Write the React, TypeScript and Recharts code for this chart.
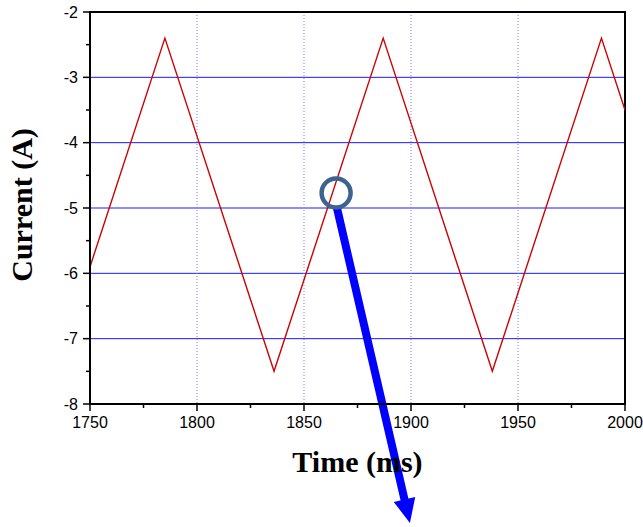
import React from 'react';
import { LineChart, Line, XAxis, YAxis, CartesianGrid, ReferenceArea, ReferenceDot, ReferenceLine } from 'recharts';

// triangle wave (turning points only)
const timeMs = [1750, 1785, 1836, 1887, 1938, 1989, 2000];
const currentA = [-5.9, -2.4, -7.5, -2.4, -7.5, -2.4, -3.5];

const xTicks = [1750, 1775, 1800, 1825, 1850, 1875, 1900, 1925, 1950, 1975, 2000];
const yTicks = [-8, -7.5, -7, -6.5, -6, -5.5, -5, -4.5, -4, -3.5, -3, -2.5, -2];
const hGridValues = [-7, -6, -5, -4, -3];
const vGridValues = [1800, 1850, 1900, 1950];

// annotation: ring on the curve and a big arrow pointing down out of the plot
const ringAt = { x: 1865, y: -4.77 };
const arrowFrom = { x: 1865.4, y: -5.0 };
const arrowTo = { x: 1899.5, y: -9.82 };

const data = timeMs.map((t, i) => ({ t, current: currentA[i] }));

const TICK_SIZE = 7;
const X_TICK_MARGIN = 6;
const Y_TICK_MARGIN = 5;
const tickFont = '"Liberation Sans", Arial, sans-serif';
const titleFont = '"Liberation Serif", "Times New Roman", serif';

const XTick = (props: any) => {
    const { x, y, payload } = props;
    const major = payload.value % 50 === 0;
    const axisY = y - TICK_SIZE - X_TICK_MARGIN;
    return (
        <g>
            <line x1={x} x2={x} y1={axisY} y2={axisY + (major ? TICK_SIZE : 4)} stroke="#000" strokeWidth={1.5} />
            {major && (
                <text x={x} y={y} dy="0.71em" textAnchor="middle" fontFamily={tickFont} fontSize={16} fill="#000">
                    {payload.value}
                </text>
            )}
        </g>
    );
};

const YTick = (props: any) => {
    const { x, y, payload } = props;
    const major = Number.isInteger(payload.value);
    const axisX = x + TICK_SIZE + Y_TICK_MARGIN;
    return (
        <g>
            <line x1={axisX} x2={axisX - (major ? TICK_SIZE : 4)} y1={y} y2={y} stroke="#000" strokeWidth={1.5} />
            {major && (
                <text x={x} y={y} dy="0.35em" textAnchor="end" fontFamily={tickFont} fontSize={16} fill="#000">
                    {payload.value}
                </text>
            )}
        </g>
    );
};

const XTitle = (props: any) => {
    const { x, y, width } = props.viewBox;
    return (
        <text x={x + width / 2} y={y + 68} textAnchor="middle" fontFamily={titleFont} fontWeight="bold" fontSize={30} fill="#000">
            Time (ms)
        </text>
    );
};

const YTitle = (props: any) => {
    const { y, height } = props.viewBox;
    const cx = 32;
    const cy = y + height / 2 - 3;
    return (
        <text x={cx} y={cy} transform={`rotate(-90, ${cx}, ${cy})`} textAnchor="middle" fontFamily={titleFont} fontWeight="bold" fontSize={30} fill="#000">
            Current (A)
        </text>
    );
};

const Arrow = (props: any) => {
    const { x1, y1, x2, y2 } = props;
    const dx = x2 - x1;
    const dy = y2 - y1;
    const len = Math.sqrt(dx * dx + dy * dy);
    const ux = dx / len;
    const uy = dy / len;
    const headLen = 24;
    const headHalf = 11;
    const bx = x2 - ux * headLen;
    const by = y2 - uy * headLen;
    const pts = `${x2},${y2} ${bx - uy * headHalf},${by + ux * headHalf} ${bx + uy * headHalf},${by - ux * headHalf}`;
    return (
        <g>
            <line x1={x1} y1={y1} x2={bx + ux * 2} y2={by + uy * 2} stroke="#0000ff" strokeWidth={8} />
            <polygon points={pts} fill="#0000ff" />
        </g>
    );
};

export default function App() {
    return (
        <div style={{ position: 'absolute', left: 0, top: 0, background: '#fff' }}>
            <LineChart width={643} height={527} data={data} margin={{ top: 12, right: 18, bottom: 0, left: 0 }}>
                <CartesianGrid horizontal={true} vertical={false} horizontalValues={hGridValues} stroke="#1a1aff" strokeWidth={1} />
                <CartesianGrid horizontal={false} vertical={true} verticalValues={vGridValues} stroke="#7a7aff" strokeDasharray="1 2" strokeWidth={1} />
                <XAxis
                    dataKey="t"
                    type="number"
                    domain={[1750, 2000]}
                    ticks={xTicks}
                    interval={0}
                    allowDataOverflow
                    height={123}
                    tickSize={TICK_SIZE}
                    tickMargin={X_TICK_MARGIN}
                    tickLine={false}
                    tick={<XTick />}
                    axisLine={{ stroke: '#000', strokeWidth: 2 }}
                    label={XTitle}
                />
                <YAxis
                    type="number"
                    domain={[-8, -2]}
                    ticks={yTicks}
                    interval={0}
                    allowDataOverflow
                    width={90}
                    tickSize={TICK_SIZE}
                    tickMargin={Y_TICK_MARGIN}
                    tickLine={false}
                    tick={<YTick />}
                    axisLine={{ stroke: '#000', strokeWidth: 2 }}
                    label={YTitle}
                />
                <ReferenceArea x1={1750} x2={2000} y1={-8} y2={-2} fill="none" fillOpacity={0} stroke="#000" strokeWidth={2} />
                <Line type="linear" dataKey="current" stroke="#cc0000" strokeWidth={1.4} dot={false} isAnimationActive={false} />
                <ReferenceDot x={ringAt.x} y={ringAt.y} r={14.5} fill="none" stroke="#3d6491" strokeWidth={4.5} ifOverflow="visible" />
                <ReferenceLine
                    segment={[arrowFrom, arrowTo]}
                    ifOverflow="visible"
                    shape={Arrow}
                />
            </LineChart>
        </div>
    );
}
